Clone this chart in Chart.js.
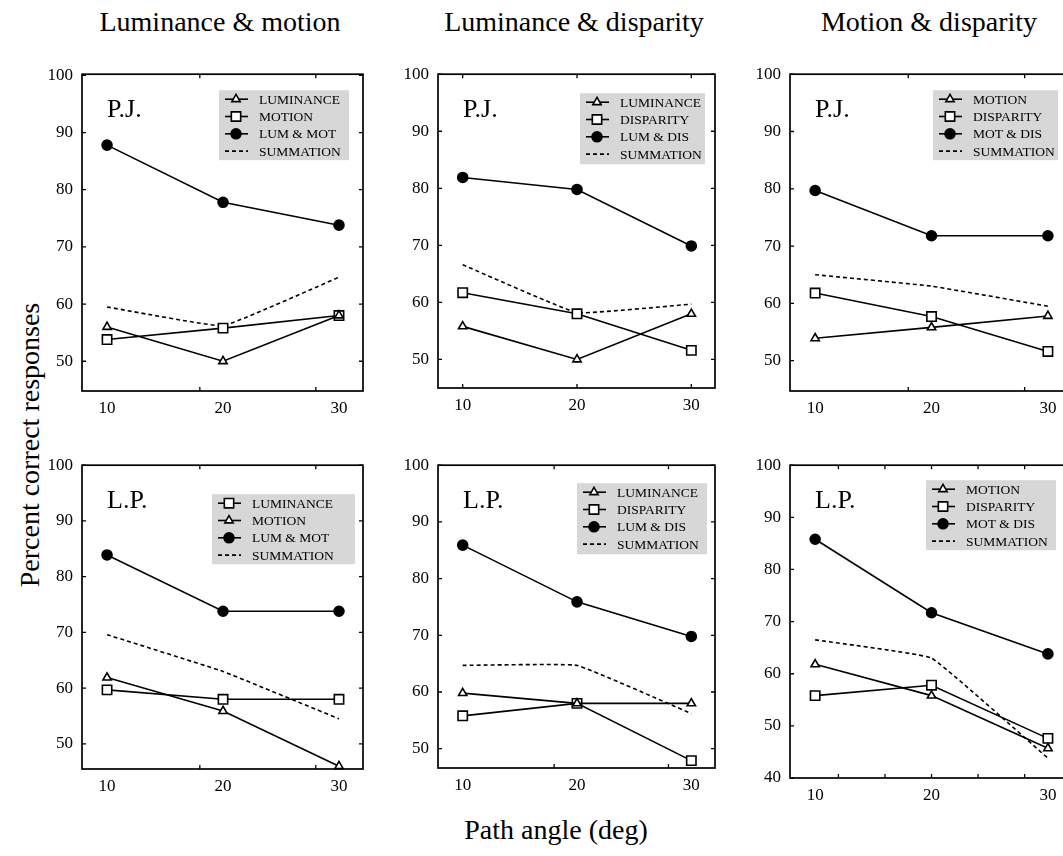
<!DOCTYPE html>
<html>
<head>
<meta charset="utf-8">
<script src="https://cdn.jsdelivr.net/npm/chart.js@4.4.1/dist/chart.umd.min.js"></script>
<style>
  html, body { margin: 0; padding: 0; background: #fff; overflow: hidden; }
  body { width: 1063px; height: 856px; position: relative; font-family: 'Liberation Serif', 'Times New Roman', serif; color: #000; }
  canvas { position: absolute; }
  .title { position: absolute; top: 22px; font-size: 28px; white-space: nowrap; transform: translate(-50%, -50%); }
  #ylabel { position: absolute; left: 30px; top: 445px; font-size: 28px; white-space: nowrap; transform: translate(-50%, -50%) rotate(-90deg); }
  #xlabel { position: absolute; left: 556px; top: 830px; font-size: 28px; white-space: nowrap; transform: translate(-50%, -50%); }
</style>
</head>
<body>
<div class="title" style="left:220px">Luminance &amp; motion</div>
<div class="title" style="left:574px">Luminance &amp; disparity</div>
<div class="title" style="left:929px">Motion &amp; disparity</div>
<div id="ylabel">Percent correct responses</div>
<div id="xlabel">Path angle (deg)</div>

<canvas id="c1"></canvas>
<canvas id="c2"></canvas>
<canvas id="c3"></canvas>
<canvas id="c4"></canvas>
<canvas id="c5"></canvas>
<canvas id="c6"></canvas>

<script>
// Path angles (deg) and y tick labels
const angles = [10, 20, 30];
const yTicks = [50, 60, 70, 80, 90, 100];
const yTicksWide = [40, 50, 60, 70, 80, 90, 100];

// P.J. - luminance & motion
const pjLumMot_lum = [56, 50, 58];
const pjLumMot_mot = [53.8, 55.8, 58];
const pjLumMot_both = [87.8, 77.8, 73.8];
const pjLumMot_sum = [59.5, 56.2, 64.7];

// P.J. - luminance & disparity
const pjLumDis_lum = [55.8, 50, 58];
const pjLumDis_dis = [61.7, 58, 51.6];
const pjLumDis_both = [81.9, 79.8, 69.9];
const pjLumDis_sum = [66.6, 58.2, 59.7];

// P.J. - motion & disparity
const pjMotDis_mot = [53.9, 55.8, 57.8];
const pjMotDis_dis = [61.8, 57.7, 51.6];
const pjMotDis_both = [79.7, 71.8, 71.8];
const pjMotDis_sum = [65, 63, 59.5];

// L.P. - luminance & motion
const lpLumMot_lum = [59.7, 58, 58];
const lpLumMot_mot = [61.9, 55.9, 46];
const lpLumMot_both = [83.9, 73.8, 73.8];
const lpLumMot_sum = [69.6, 63, 54.5];

// L.P. - luminance & disparity
const lpLumDis_lum = [59.8, 58, 58];
const lpLumDis_dis = [55.8, 58, 47.9];
const lpLumDis_both = [85.9, 75.9, 69.8];
const lpLumDis_sum = [64.7, 64.7, 56.2];

// L.P. - motion & disparity
const lpMotDis_mot = [61.8, 55.8, 45.7];
const lpMotDis_dis = [55.8, 57.8, 47.6];
const lpMotDis_both = [85.8, 71.7, 63.8];
const lpMotDis_sum = [66.5, 63, 43.8];

// small inward tick marks on the x frame edges
const xMarksA = [18, 28];
const xMarksB = [10, 20, 30];
const xMarksC = [12, 16, 20, 24, 28];

const FONT = "'Liberation Serif', 'Times New Roman', serif";
const LINE_W = 1.6;

const markerStyles = {
  tri:  { pointStyle: 'triangle', pointRadius: 4.8, pointBackgroundColor: '#fff', borderDash: [] },
  sq:   { pointStyle: 'rect', pointRadius: 6.6, pointBackgroundColor: '#fff', borderDash: [] },
  dot:  { pointStyle: 'circle', pointRadius: 5, pointBackgroundColor: '#000', borderDash: [] },
  dash: { pointStyle: false, pointRadius: 0, pointBackgroundColor: '#000', borderDash: [4, 3] }
};

const panels = [
  { id: 'c1', subject: 'P.J.', frame: [82, 67, 363, 391], yMin: 44.8, yMax: 100.2, ticks: yTicks, xMarks: xMarksA,
    legend: [137, 16, 130, 70],
    series: [['LUMINANCE', pjLumMot_lum, 'tri'], ['MOTION', pjLumMot_mot, 'sq'], ['LUM & MOT', pjLumMot_both, 'dot'], ['SUMMATION', pjLumMot_sum, 'dash']] },
  { id: 'c2', subject: 'P.J.', frame: [438, 67, 715, 388], yMin: 45, yMax: 100, ticks: yTicks, xMarks: xMarksB,
    legend: [142, 19, 125, 71],
    series: [['LUMINANCE', pjLumDis_lum, 'tri'], ['DISPARITY', pjLumDis_dis, 'sq'], ['LUM & DIS', pjLumDis_both, 'dot'], ['SUMMATION', pjLumDis_sum, 'dash']] },
  { id: 'c3', subject: 'P.J.', frame: [790, 67, 1072, 391], yMin: 44.7, yMax: 100, ticks: yTicks, xMarks: xMarksA,
    legend: [143, 16, 125, 70],
    series: [['MOTION', pjMotDis_mot, 'tri'], ['DISPARITY', pjMotDis_dis, 'sq'], ['MOT & DIS', pjMotDis_both, 'dot'], ['SUMMATION', pjMotDis_sum, 'dash']] },
  { id: 'c4', subject: 'L.P.', frame: [82, 458, 363, 769], yMin: 45.5, yMax: 100, ticks: yTicks, xMarks: xMarksA,
    legend: [130, 29, 143, 70],
    series: [['LUMINANCE', lpLumMot_lum, 'sq'], ['MOTION', lpLumMot_mot, 'tri'], ['LUM & MOT', lpLumMot_both, 'dot'], ['SUMMATION', lpLumMot_sum, 'dash']] },
  { id: 'c5', subject: 'L.P.', frame: [438, 458, 715, 768], yMin: 46.6, yMax: 100, ticks: yTicks, xMarks: xMarksA,
    legend: [139, 18, 130, 71],
    series: [['LUMINANCE', lpLumDis_lum, 'tri'], ['DISPARITY', lpLumDis_dis, 'sq'], ['LUM & DIS', lpLumDis_both, 'dot'], ['SUMMATION', lpLumDis_sum, 'dash']] },
  { id: 'c6', subject: 'L.P.', frame: [790, 458, 1072, 778], yMin: 40, yMax: 100, ticks: yTicksWide, xMarks: xMarksC,
    legend: [136, 15, 130, 70],
    series: [['MOTION', lpMotDis_mot, 'tri'], ['DISPARITY', lpMotDis_dis, 'sq'], ['MOT & DIS', lpMotDis_both, 'dot'], ['SUMMATION', lpMotDis_sum, 'dash']] }
];

// Frame, inner ticks, subject label and the grey legend box
const panelDecor = {
  id: 'panelDecor',
  afterDraw(chart, args, opts) {
    const { ctx, chartArea: a, scales } = chart;
    ctx.save();
    ctx.strokeStyle = '#000';
    ctx.lineWidth = 1.7;
    ctx.strokeRect(a.left, a.top, a.right - a.left, a.bottom - a.top);

    ctx.lineWidth = 1.3;
    ctx.beginPath();
    opts.yTicks.forEach(v => {
      const py = scales.y.getPixelForValue(v);
      ctx.moveTo(a.left, py); ctx.lineTo(a.left + 4, py);
      ctx.moveTo(a.right, py); ctx.lineTo(a.right - 4, py);
    });
    opts.xMarks.forEach(v => {
      const px = scales.x.getPixelForValue(v);
      ctx.moveTo(px, a.bottom); ctx.lineTo(px, a.bottom - 4);
      ctx.moveTo(px, a.top); ctx.lineTo(px, a.top + 4);
    });
    ctx.stroke();

    ctx.fillStyle = '#000';
    ctx.font = `26px ${FONT}`;
    ctx.textBaseline = 'middle';
    ctx.textAlign = 'left';
    ctx.fillText(opts.subject, a.left + 25, a.top + 36);

    // legend
    const [dx, dy, w, h] = opts.legend;
    const bx = a.left + dx, by = a.top + dy;
    ctx.fillStyle = '#d7d7d7';
    ctx.fillRect(bx, by, w, h);
    ctx.font = `13.5px ${FONT}`;
    chart.data.datasets.forEach((ds, i) => {
      const ry = by + 9 + i * 17.3;
      ctx.strokeStyle = '#000';
      ctx.lineWidth = LINE_W;
      ctx.setLineDash(ds.borderDash || []);
      ctx.beginPath();
      ctx.moveTo(bx + 6, ry); ctx.lineTo(bx + 29, ry);
      ctx.stroke();
      ctx.setLineDash([]);
      if (ds.pointRadius > 0) {
        ctx.fillStyle = ds.pointBackgroundColor;
        ctx.lineWidth = ds.pointBorderWidth;
        Chart.helpers.drawPoint(ctx, { pointStyle: ds.pointStyle, radius: ds.pointRadius, rotation: 0, borderWidth: ds.pointBorderWidth }, bx + 17, ry);
      }
      ctx.fillStyle = '#000';
      ctx.fillText(ds.label, bx + 40, ry + 1);
    });
    ctx.restore();
  }
};

panels.forEach(p => {
  const [l, t, r, b] = p.frame;
  const canvas = document.getElementById(p.id);
  canvas.width = r - l + 60;
  canvas.height = b - t + 12 + 35;
  canvas.style.left = (l - 50) + 'px';
  canvas.style.top = (t - 12) + 'px';

  new Chart(canvas, {
    type: 'line',
    plugins: [panelDecor],
    data: {
      datasets: p.series.map(([label, values, marker]) => ({
        label: label,
        data: angles.map((a, i) => ({ x: a, y: values[i] })),
        borderColor: '#000',
        borderWidth: LINE_W,
        pointBorderColor: '#000',
        pointBorderWidth: LINE_W,
        tension: marker === 'dash' ? 0.08 : 0,
        clip: false,
        fill: false,
        ...markerStyles[marker]
      }))
    },
    options: {
      responsive: false,
      animation: false,
      devicePixelRatio: 1,
      layout: { padding: { top: 12, right: 10, left: 0, bottom: 0 } },
      scales: {
        x: {
          type: 'linear',
          min: 7.84,
          max: 32.07,
          grid: { display: false, drawTicks: false },
          border: { display: false },
          afterBuildTicks: scale => { scale.ticks = angles.map(v => ({ value: v })); },
          afterFit: scale => { scale.height = 35; },
          ticks: { color: '#000', padding: 7, maxRotation: 0, font: { family: FONT, size: 17 } }
        },
        y: {
          min: p.yMin,
          max: p.yMax,
          grid: { display: false, drawTicks: false },
          border: { display: false },
          afterBuildTicks: scale => { scale.ticks = p.ticks.map(v => ({ value: v })); },
          afterFit: scale => { scale.width = 50; },
          ticks: { color: '#000', padding: 9, font: { family: FONT, size: 17 } }
        }
      },
      plugins: {
        legend: { display: false },
        tooltip: { enabled: false },
        panelDecor: { subject: p.subject, legend: p.legend, yTicks: p.ticks, xMarks: p.xMarks }
      }
    }
  });
});
</script>
</body>
</html>
